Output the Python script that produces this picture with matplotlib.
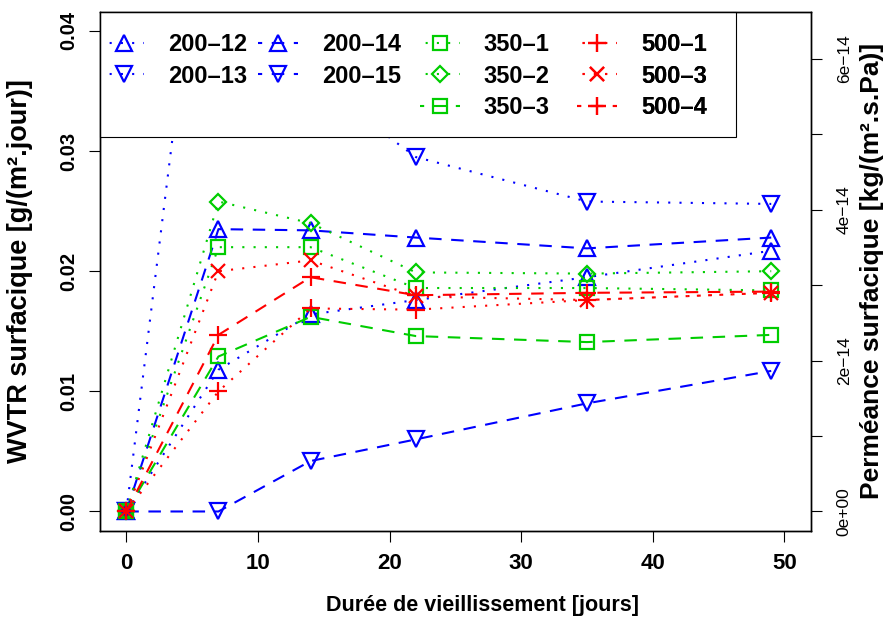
import matplotlib
matplotlib.use("Agg")
import matplotlib.pyplot as plt
from matplotlib.lines import Line2D
from matplotlib.patches import Rectangle
from matplotlib.ticker import FixedLocator, FixedFormatter
from matplotlib.font_manager import FontProperties

# ---------------- data ----------------
days = [0, 7, 14, 22, 35, 49]

labels = ["200–12", "200–13", "200–14", "200–15",
          "350–1", "350–2", "350–3",
          "500–1", "500–3", "500–4"]

v_200_12 = [0.0, 0.0118, 0.0164, 0.0176, 0.0195, 0.0217]
v_200_13 = [0.0, 0.0620, 0.0360, 0.0295, 0.0258, 0.0256]
v_200_14 = [0.0, 0.0235, 0.0234, 0.0228, 0.0219, 0.0228]
v_200_15 = [0.0, 0.0000, 0.0042, 0.0060, 0.0090, 0.0117]
v_350_1 = [0.0, 0.0220, 0.0220, 0.0186, 0.0186, 0.0184]
v_350_2 = [0.0, 0.0258, 0.0240, 0.0199, 0.0198, 0.0200]
v_350_3 = [0.0, 0.0129, 0.0162, 0.0146, 0.0141, 0.0147]
v_500_1 = [0.0, 0.0100, 0.0169, 0.0168, 0.0176, 0.0182]
v_500_3 = [0.0, 0.0200, 0.0209, 0.0179, 0.0176, 0.0182]
v_500_4 = [0.0, 0.0147, 0.0195, 0.0180, 0.0182, 0.0183]

series_values = [v_200_12, v_200_13, v_200_14, v_200_15,
                 v_350_1, v_350_2, v_350_3,
                 v_500_1, v_500_3, v_500_4]

x_ticks = [0, 10, 20, 30, 40, 50]
y_ticks = [0.00, 0.01, 0.02, 0.03, 0.04]
y_tick_labels = ["0.00", "0.01", "0.02", "0.03", "0.04"]
perm_ticks = [0e-14, 1e-14, 2e-14, 3e-14, 4e-14, 5e-14, 6e-14]
perm_tick_labels = ["0e+00", "", "2e−14", "", "4e−14", "", "6e−14"]

# conversion WVTR [g/(m2.day)] -> permeance [kg/(m2.s.Pa)]
DELTA_P = 7267.0  # Pa
CONV = 1.0 / (1000.0 * 86400.0 * DELTA_P)

# ---------------- styles ----------------
BLUE = "#0000FF"
GREEN = "#00CD00"
RED = "#FF0000"
DOT = (0, (1.0, 4.4))
DASH = (0, (6.0, 4.6))
DOT_LEG = (2.7, (1.0, 4.4))
DASH_LEG = (4.0, (6.0, 4.6))
styles = [
    (BLUE, "dot", "^", 12.0),
    (BLUE, "dot", "v", 12.0),
    (BLUE, "dash", "^", 12.0),
    (BLUE, "dash", "v", 12.0),
    (GREEN, "dot", "s", 10.5),
    (GREEN, "dot", "D", 8.6),
    (GREEN, "dash", "s", 10.5),
    (RED, "dot", "+", 13.0),
    (RED, "dot", "x", 10.5),
    (RED, "dash", "+", 13.0),
]
LS = {"dot": DOT, "dash": DASH}
LS_LEG = {"dot": DOT_LEG, "dash": DASH_LEG}

BOLD = dict(family=["Liberation Sans", "DejaVu Sans"], weight="bold")
REG = dict(family=["Liberation Sans", "DejaVu Sans"], weight="normal")

W, H = 890, 624
fig = plt.figure(figsize=(W / 100, H / 100), dpi=100)
L, R, T, B = 100, 810.7, 11.7, 530.7
ax = fig.add_axes([L / W, 1 - B / H, (R - L) / W, (B - T) / H])

leg_handles = []
for vals, lab, (col, ls, mk, ms) in zip(series_values, labels, styles):
    kw = dict(color=col, linewidth=1.5, marker=mk, markersize=ms,
              markerfacecolor="none", markeredgecolor=col,
              markeredgewidth=1.6, dash_capstyle="butt")
    ax.plot(days, vals, linestyle=LS[ls], label=lab, zorder=2, **kw)
    leg_handles.append(Line2D([], [], linestyle=LS_LEG[ls], **kw))

ax.set_xlim(-2, 52)
ax.set_ylim(-0.0016, 0.0416)
ax.xaxis.set_major_locator(FixedLocator(x_ticks))
ax.yaxis.set_major_locator(FixedLocator(y_ticks))
ax.yaxis.set_major_formatter(FixedFormatter(y_tick_labels))

for s in ax.spines.values():
    s.set_linewidth(1.0)

ax.tick_params(axis="both", direction="out", length=7.7, width=0.8, color="black")
ax.tick_params(axis="x", pad=8)
ax.tick_params(axis="y", pad=8)
for t in ax.get_xticklabels():
    t.set_fontproperties(FontProperties(**BOLD, size=16))
for t in ax.get_yticklabels():
    t.set_fontproperties(FontProperties(**BOLD, size=14.5))
    t.set_rotation(90)
    t.set_va("center")

# secondary axis
ax2 = ax.twinx()
lo, hi = ax.get_ylim()
ax2.set_ylim(lo * CONV, hi * CONV)
ax2.yaxis.set_major_locator(FixedLocator(perm_ticks))
ax2.yaxis.set_major_formatter(FixedFormatter(perm_tick_labels))
ax2.tick_params(axis="y", direction="out", length=7.7, width=0.8, pad=11)
for t in ax2.get_yticklabels():
    t.set_fontproperties(FontProperties(**REG, size=12.5))
    t.set_rotation(90)
    t.set_va("center")
for s in ax2.spines.values():
    s.set_linewidth(1.0)
ax2.yaxis.get_offset_text().set_visible(False)

# axis labels
fig.text(482 / W, 1 - 606 / H, "Durée de vieillissement [jours]",
         ha="center", va="center", fontsize=15.5, **BOLD)
fig.text(20 / W, 1 - 271 / H, "WVTR surfacique [g/(m².jour)]",
         ha="center", va="center", rotation=90, fontsize=19.5, **BOLD)
fig.text(872 / W, 1 - 271 / H, "Perméance surfacique [kg/(m².s.Pa)]",
         ha="center", va="center", rotation=90, fontsize=19, **BOLD)

# legend box
bx1 = (736 - L) / (R - L)
by0 = (B - 136.7) / (B - T)
ax.add_patch(Rectangle((0, by0), bx1, 1 - by0, transform=ax.transAxes,
                       facecolor="white", edgecolor="black", linewidth=0.8,
                       zorder=4, clip_on=False))

columns = [[0, 1], [2, 3], [4, 5, 6], [7, 8, 9]]
col_x = [104, 258, 420, 577]
leg_top = 33
for idxs, cx in zip(columns, col_x):
    leg = ax.legend([leg_handles[i] for i in idxs], [labels[i] for i in idxs],
                    loc="upper left", bbox_to_anchor=(cx / W, 1 - leg_top / H),
                    bbox_transform=fig.transFigure, frameon=False,
                    borderpad=0, borderaxespad=0, handlelength=1.7,
                    handletextpad=1.0, labelspacing=0.37, numpoints=1,
                    prop=FontProperties(**BOLD, size=17))
    leg.set_zorder(6)
    ax.add_artist(leg)

fig.savefig("out.png", dpi=100)
